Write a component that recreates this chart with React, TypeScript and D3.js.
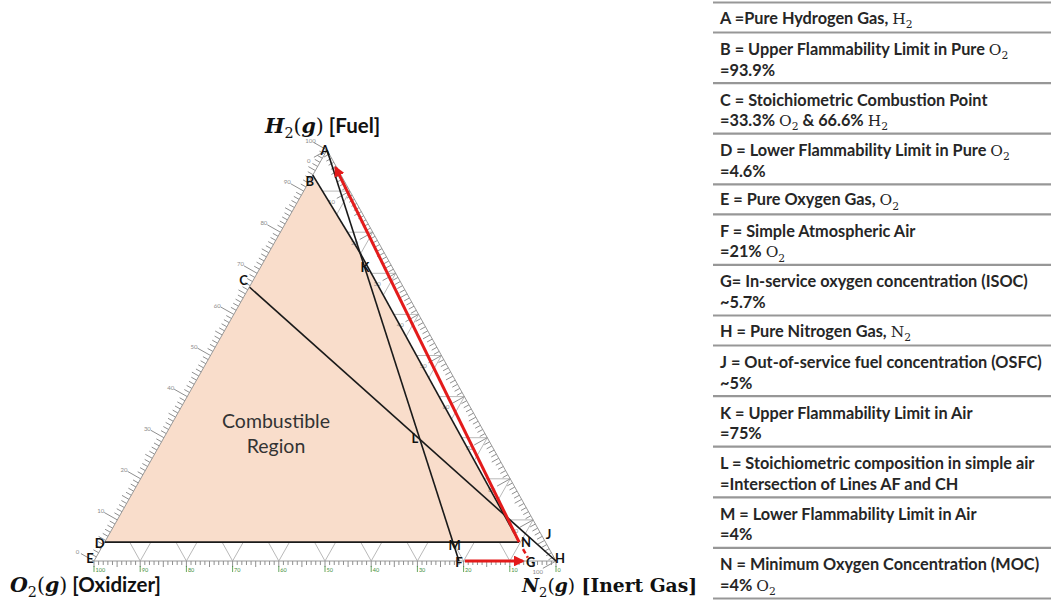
import React from "react";
import * as d3 from "d3";

// Ternary compositions (percent) of the labelled points: fuel H2, oxidizer O2, inert N2
const pointKeys = ["A", "B", "C", "D", "E", "F", "G", "H", "J", "K", "L", "M", "N"];
const fuelPct = [100, 93.9, 66.6, 4.6, 0, 0, 0, 0, 5, 75, 29.6, 4, 4.6];
const oxygenPct = [0, 6.1, 33.3, 95.4, 100, 21, 5.7, 0, 0, 5.25, 14.8, 20.16, 5.7];
const inertPct = [0, 0, 0.1, 0, 0, 79, 94.3, 100, 95, 19.75, 55.6, 75.84, 89.7];

// Construction lines and the flammable envelope
const blackLines = [["A", "F"], ["C", "H"], ["B", "K"], ["K", "N"], ["D", "N"]];
const envelopeKeys = ["B", "K", "N", "D"];

// Grid and axis steps (percent)
const gridSteps = [10, 20, 30, 40, 50, 60, 70, 80, 90];
const tickSteps = d3.range(0, 101);
const axisLabelSteps = [0, 10, 20, 30, 40, 50, 60, 70, 80, 90, 100];

const regionText = ["Combustible", "Region"];

// Key table
const legendTitles = [
  "A =Pure Hydrogen Gas, H₂",
  "B = Upper Flammability Limit in Pure O₂",
  "C = Stoichiometric Combustion Point",
  "D = Lower Flammability Limit in Pure O₂",
  "E = Pure Oxygen Gas, O₂",
  "F = Simple Atmospheric Air",
  "G= In-service oxygen concentration (ISOC)",
  "H = Pure Nitrogen Gas, N₂",
  "J = Out-of-service fuel concentration (OSFC)",
  "K = Upper Flammability Limit in Air",
  "L = Stoichiometric composition in simple air",
  "M = Lower Flammability Limit in Air",
  "N = Minimum Oxygen Concentration (MOC)",
];
const legendValues = [
  "",
  "=93.9%",
  "=33.3% O₂ & 66.6% H₂",
  "=4.6%",
  "",
  "=21% O₂",
  "~5.7%",
  "",
  "~5%",
  "=75%",
  "=Intersection of Lines AF and CH",
  "=4%",
  "=4% O₂",
];

const SANS = "Lato, 'Open Sans', sans-serif";
const SERIF = "'DejaVu Serif', 'Liberation Serif', serif";
const RED = "#e31b1b";

function chemText(str: string, size: number, keyBase: string) {
  const parts = str.split(/([HON]₂)/);
  const out: any[] = [];
  const sub = size * 0.26;
  let shifted = false;
  parts.forEach((p, i) => {
    if (!p) return;
    const m = /^([HON])₂$/.exec(p);
    if (m) {
      out.push(
        <tspan key={keyBase + i + "a"} fontFamily={SERIF} fontWeight="normal" fontSize={size * 0.95} dy={shifted ? -sub : 0}>
          {m[1]}
        </tspan>
      );
      out.push(
        <tspan key={keyBase + i + "b"} fontFamily={SERIF} fontWeight="normal" fontSize={size * 0.66} dy={sub}>
          2
        </tspan>
      );
      shifted = true;
    } else {
      out.push(
        <tspan key={keyBase + i} dy={shifted ? -sub : 0}>
          {p}
        </tspan>
      );
      shifted = false;
    }
  });
  return out;
}

function AxisTitle({
  x,
  y,
  letter,
  tail,
  tailFont,
  fs,
}: {
  x: number;
  y: number;
  letter: string;
  tail: string;
  tailFont: string;
  fs: number;
}) {
  return (
    <text x={x} y={y} fontSize={fs} fill="#111">
      <tspan fontFamily={SERIF} fontStyle="italic" fontWeight="bold">{letter}</tspan>
      <tspan fontFamily={SERIF} fontSize={fs * 0.7} dy={fs * 0.25}>2</tspan>
      <tspan fontFamily={SERIF} dy={-fs * 0.25}>(</tspan>
      <tspan fontFamily={SERIF} fontStyle="italic" fontWeight="bold">g</tspan>
      <tspan fontFamily={SERIF}>)</tspan>
      <tspan fontFamily={tailFont} fontWeight="bold"> {tail}</tspan>
    </text>
  );
}

export default function App() {
  const width = 1051;
  const height = 600;

  // Triangle frame: O2 vertex bottom-left, N2 vertex bottom-right, H2 apex on top
  const baseY = 561;
  const apexY = 150;
  const xO2 = 94;
  const xN2 = 556;
  const xApex = 327;

  const yFuel = d3.scaleLinear().domain([0, 100]).range([baseY, apexY]);
  const xInert = d3.scaleLinear().domain([0, 100]).range([xO2, xN2]);
  const lean = d3.scaleLinear().domain([0, 100]).range([0, xApex - xO2]);

  const proj = (h: number, o: number, n: number): [number, number] => {
    const s = h + o + n;
    const hh = (h / s) * 100;
    const nn = (n / s) * 100;
    return [xInert(nn) + lean(hh), yFuel(hh)];
  };

  const pts: Record<string, [number, number]> = {};
  pointKeys.forEach((k, i) => {
    pts[k] = proj(fuelPct[i], oxygenPct[i], inertPct[i]);
  });

  const line = d3.line<[number, number]>();

  // outward unit normals of the slanted edges
  const A0 = proj(100, 0, 0);
  const E0 = proj(0, 100, 0);
  const H0 = proj(0, 0, 100);
  const norm = (dx: number, dy: number): [number, number] => {
    const l = Math.hypot(dx, dy);
    return [dx / l, dy / l];
  };
  const leftDir = norm(A0[0] - E0[0], A0[1] - E0[1]);
  const leftN: [number, number] = [leftDir[1], -leftDir[0]];
  const rightDir = norm(H0[0] - A0[0], H0[1] - A0[1]);
  const rightN: [number, number] = [-rightDir[1], rightDir[0]];

  const tickLen = (i: number) => (i % 10 === 0 ? 15 : i % 5 === 0 ? 8 : 6);

  // grid segments: constant fuel, constant oxygen, constant inert
  const grid: [number, number][][] = [];
  gridSteps.forEach((k) => {
    grid.push([proj(k, 100 - k, 0), proj(k, 0, 100 - k)]);
    grid.push([proj(0, k, 100 - k), proj(100 - k, k, 0)]);
    grid.push([proj(0, 100 - k, k), proj(100 - k, 0, k)]);
  });

  const labelOffsets: Record<string, [number, number]> = {
    A: [-2, 5],
    B: [-3, 11],
    C: [-6, -2],
    D: [-5, 6],
    E: [-4, 2],
    F: [0, 6],
    G: [1, 6],
    H: [4, 2],
    J: [4, -1],
    K: [5, 19],
    L: [-5, 4],
    M: [1, 5],
    N: [7, 5],
  };

  // red inerting paths
  const N = pts["N"];
  const Apt = pts["A"];
  const arrowTip: [number, number] = [N[0] + 0.955 * (Apt[0] - N[0]), N[1] + 0.955 * (Apt[1] - N[1])];
  const G = pts["G"];
  const dashStart: [number, number] = [N[0] + 0.37 * (G[0] - N[0]), N[1] + 0.37 * (G[1] - N[1])];
  const dashEnd: [number, number] = [N[0] + 0.82 * (G[0] - N[0]), N[1] + 0.82 * (G[1] - N[1])];
  const F = pts["F"];

  // Key table rows
  let rowY = 2.5;
  const rows = legendTitles.map((t, i) => {
    const two = legendValues[i] !== "";
    const h = two ? 50.6 : 30;
    const r = { top: rowY, h, title: t, value: legendValues[i], two };
    rowY += h;
    return r;
  });
  const tableX0 = 713;
  const textX = 720;
  const tfs = 16.3;

  return (
    <svg
      width={width}
      height={height}
      viewBox={`0 0 ${width} ${height}`}
      style={{ position: "absolute", left: 0, top: 0, background: "#fff" }}
    >
      <defs>
        <marker id="redHead" viewBox="0 0 10 10" refX="8" refY="5" markerWidth="3.6" markerHeight="3.6" orient="auto">
          <path d="M0,0 L10,5 L0,10 z" fill={RED} />
        </marker>
      </defs>

      {/* ternary grid */}
      <g stroke="#b9b9b9" strokeWidth={1} fill="none">
        {grid.map((seg, i) => (
          <path key={i} d={line(seg) || ""} />
        ))}
      </g>

      {/* flammable envelope */}
      <path d={(line(envelopeKeys.map((k) => pts[k])) || "") + "Z"} fill="#f9ddcb" stroke="none" />

      {/* triangle edges */}
      <path d={(line([A0, E0, H0]) || "") + "Z"} fill="none" stroke="#9a9a9a" strokeWidth={1} />

      {/* edge ticks */}
      <g stroke="#8f8f8f" strokeWidth={1}>
        {tickSteps.map((i) => {
          const p = proj(i, 100 - i, 0);
          const l = tickLen(i);
          return <line key={"l" + i} x1={p[0]} y1={p[1]} x2={p[0] + leftN[0] * l} y2={p[1] + leftN[1] * l} />;
        })}
        {tickSteps.map((i) => {
          const p = proj(100 - i, 0, i);
          const l = tickLen(i);
          return <line key={"r" + i} x1={p[0]} y1={p[1]} x2={p[0] + rightN[0] * l} y2={p[1] + rightN[1] * l} />;
        })}
        {tickSteps.map((i) => {
          const p = proj(0, 100 - i, i);
          const l = i % 5 === 0 ? 6 : 4;
          return <line key={"b" + i} x1={p[0]} y1={p[1]} x2={p[0]} y2={p[1] + l} />;
        })}
      </g>

      {/* edge tick labels */}
      <g fontFamily={SANS} fontSize={6} fill="#8a8a8a" textAnchor="middle">
        {axisLabelSteps.map((v) => {
          const p = proj(v, 100 - v, 0);
          return (
            <text key={"ll" + v} x={p[0] + leftN[0] * 19} y={p[1] + leftN[1] * 19 + 2.5}>
              {v}
            </text>
          );
        })}
        {axisLabelSteps.map((v) => {
          const p = proj(100 - v, 0, v);
          return (
            <text key={"rl" + v} x={p[0] + rightN[0] * 21} y={p[1] + rightN[1] * 21 + 2.5}>
              {v}
            </text>
          );
        })}
      </g>
      <g fontFamily={SANS} fontSize={5.5} fill="#3f8f3a">
        {axisLabelSteps.map((v) => {
          const p = proj(0, v, 100 - v);
          return (
            <g key={"bl" + v}>
              <line x1={p[0]} y1={p[1] + 5} x2={p[0]} y2={p[1] + 11} stroke="#3f8f3a" strokeWidth={0.8} />
              <text x={p[0] + 1.5} y={p[1] + 11}>
                {v}
              </text>
            </g>
          );
        })}
      </g>

      {/* construction lines */}
      <g stroke="#1a1a1a" strokeWidth={1.6} fill="none">
        {blackLines.map(([a, b], i) => (
          <path key={i} d={line([pts[a], pts[b]]) || ""} />
        ))}
      </g>

      {/* inerting paths */}
      <path d={line([N, arrowTip]) || ""} stroke={RED} strokeWidth={3} fill="none" markerEnd="url(#redHead)" />
      <path d={line([dashStart, dashEnd]) || ""} stroke={RED} strokeWidth={2.5} strokeDasharray="5 3" fill="none" />
      <path
        d={line([[F[0] + 6, F[1]], [G[0] - 7, G[1]]]) || ""}
        stroke={RED}
        strokeWidth={3}
        fill="none"
        markerEnd="url(#redHead)"
      />

      {/* point labels */}
      <g fontFamily={SANS} fontWeight="bold" fontSize={13} fill="#111" textAnchor="middle">
        {pointKeys.map((k) => {
          const p = pts[k];
          const o = labelOffsets[k];
          return (
            <text key={k} x={p[0] + o[0]} y={p[1] + o[1]}>
              {k}
            </text>
          );
        })}
      </g>

      {/* region caption */}
      <g fontFamily={SANS} fontSize={19.5} fill="#333" textAnchor="middle">
        {regionText.map((t, i) => (
          <text key={t} x={276} y={428 + i * 25}>
            {t}
          </text>
        ))}
      </g>

      {/* axis titles */}
      <AxisTitle x={265} y={132.5} letter="H" tail="[Fuel]" tailFont={SANS} fs={20.5} />
      <AxisTitle x={10} y={592} letter="O" tail="[Oxidizer]" tailFont={SANS} fs={20.5} />
      <AxisTitle x={522} y={592} letter="N" tail="[Inert Gas]" tailFont={SERIF} fs={18.7} />

      {/* key table */}
      <g stroke="#979797" strokeWidth={2.2}>
        <line x1={tableX0} y1={2.5} x2={width} y2={2.5} />
        {rows.map((r, i) => (
          <line key={i} x1={tableX0} y1={r.top + r.h} x2={width} y2={r.top + r.h} />
        ))}
      </g>
      <g fontFamily={SANS} fontWeight="bold" fontSize={tfs} fill="#262626">
        {rows.map((r, i) => (
          <g key={i}>
            <text x={textX} y={r.top + (r.two ? 22.5 : 21)}>
              {chemText(r.title, tfs, "t" + i)}
            </text>
            {r.two && (
              <text x={textX} y={r.top + 43}>
                {chemText(r.value, tfs, "v" + i)}
              </text>
            )}
          </g>
        ))}
      </g>
    </svg>
  );
}
